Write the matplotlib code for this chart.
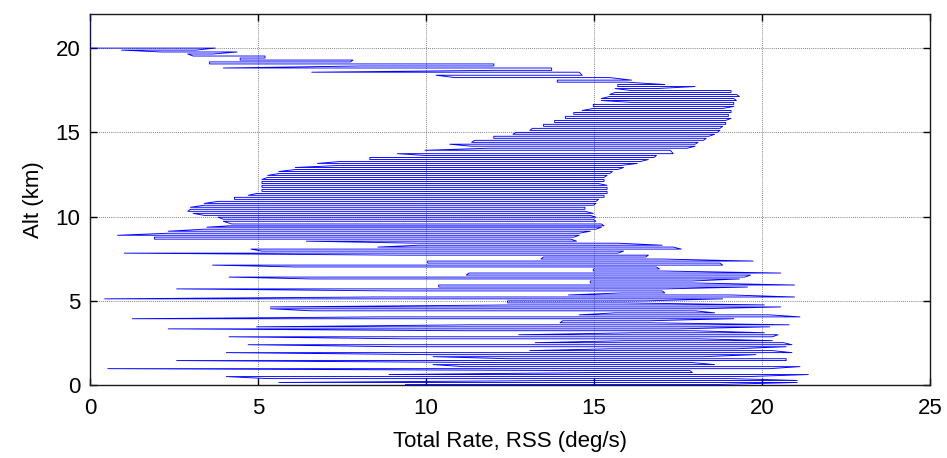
import matplotlib
matplotlib.use("Agg")
import matplotlib.pyplot as plt

plt.rcParams['font.family'] = ['Liberation Sans', 'DejaVu Sans']

# rate trace sits on 0 deg/s above the last sample
top_alt = 22.0
top_rate = 0.0

# one row per horizontal stroke, read top to bottom: altitude (km), left end, right end (deg/s)
alt_km = [
    19.99, 19.87, 19.76, 19.64, 19.52, 19.40, 19.28, 19.17, 19.05, 18.93,
    18.81, 18.67, 18.56, 18.38, 18.24, 18.09, 17.97,
    17.83, 17.71, 17.59, 17.47, 17.36, 17.24, 17.12, 17.00, 16.88, 16.77,
    16.65, 16.53, 16.41, 16.29, 16.17, 16.06, 15.94, 15.82, 15.70, 15.58,
    15.47, 15.35, 15.23, 15.11, 14.99, 14.88, 14.76, 14.64, 14.52, 14.40,
    14.29, 14.17, 14.05, 13.93,
    13.73, 13.62, 13.50, 13.38, 13.26, 13.15, 13.03, 12.91, 12.79, 12.67,
    12.55, 12.44, 12.32, 12.20, 12.08, 11.96, 11.85, 11.73, 11.61, 11.49,
    11.37, 11.26, 11.14, 11.02, 10.90, 10.78, 10.67, 10.55, 10.43, 10.31,
    10.19, 10.07, 9.96, 9.84, 9.72,
    9.56, 9.45, 9.37, 9.25, 9.13, 9.01, 8.89, 8.78, 8.66, 8.54,
    8.42, 8.30, 8.19, 8.07, 7.95, 7.83, 7.71, 7.60, 7.48, 7.36,
    7.24, 7.12, 7.01, 6.89, 6.77, 6.65, 6.53, 6.41, 6.30, 6.18,
    6.06, 5.94, 5.82, 5.71, 5.59,
    5.47, 5.35, 5.23, 5.12, 5.00, 4.88, 4.76, 4.64, 4.53, 4.41,
    4.29, 4.17, 4.05, 3.94, 3.82, 3.70, 3.58, 3.46, 3.34, 3.23,
    3.11, 2.99, 2.87, 2.75, 2.64, 2.52, 2.40, 2.28, 2.16, 2.05,
    1.93, 1.81, 1.69, 1.57, 1.46,
    1.34, 1.22, 1.10, 0.98, 0.87, 0.75, 0.63, 0.51, 0.39, 0.28,
    0.16, 0.04,
]
rate_lo = [
    0.00, 0.94, 2.13, 2.91, 3.07, 4.47, 4.47, 3.56, 3.56, 8.08,
    3.97, 12.02, 6.60, 10.30, 10.87, 13.91, 13.91,
    15.71, 15.71, 15.63, 16.12, 15.63, 15.47, 15.47, 15.22, 15.22, 16.12,
    14.98, 14.98, 14.98, 14.65, 14.40, 14.40, 14.15, 14.15, 13.83, 13.83,
    13.50, 13.50, 13.17, 13.09, 12.68, 12.59, 12.02, 12.02, 11.45, 11.36,
    10.71, 11.36, 11.86, 9.97,
    9.15, 9.97, 8.33, 8.33, 7.42, 6.77, 7.42, 6.11, 6.11, 5.62,
    5.62, 5.29, 5.29, 5.12, 5.12, 5.12, 5.12, 5.12, 5.12, 5.12,
    4.96, 4.71, 4.30, 4.30, 3.81, 3.40, 3.40, 2.99, 2.99, 2.91,
    3.07, 3.40, 3.81, 3.97, 3.97,
    4.22, 4.14, 3.48, 3.40, 2.33, 2.33, 0.82, 1.92, 1.92, 6.44,
    9.72, 9.80, 8.57, 4.79, 5.12, 1.02, 9.23, 13.50, 13.42, 10.05,
    10.05, 3.65, 6.11, 14.98, 14.98, 11.28, 11.20, 4.14, 6.60, 14.89,
    14.89, 10.38, 10.38, 2.58, 8.98,
    15.80, 14.24, 8.49, 0.44, 12.43, 12.43, 12.68, 5.37, 5.37, 6.60,
    15.63, 14.56, 8.65, 1.26, 14.07, 13.99, 11.36, 4.96, 2.33, 11.03,
    16.21, 12.76, 4.14, 9.39, 15.96, 13.25, 4.71, 9.15, 15.55, 13.09,
    4.06, 10.13, 10.21, 12.43, 2.58,
    12.10, 10.21, 11.12, 0.53, 13.99, 15.06, 8.90, 4.06, 5.29, 14.15,
    5.62, 9.39,
]
rate_hi = [
    3.73, 3.15, 4.38, 3.65, 5.21, 5.21, 7.83, 7.75, 12.02, 12.02,
    13.74, 13.74, 14.56, 14.65, 15.47, 16.12, 15.96,
    17.11, 18.01, 16.86, 19.08, 19.08, 19.24, 19.33, 19.16, 19.24, 19.16,
    19.16, 19.16, 18.83, 19.08, 19.08, 19.00, 19.00, 19.08, 18.92, 18.92,
    18.92, 18.83, 18.75, 18.75, 18.67, 18.59, 18.42, 18.34, 18.26, 18.10,
    18.01, 18.01, 17.77, 17.27,
    17.36, 16.86, 16.78, 16.62, 16.37, 16.29, 15.80, 15.88, 15.71, 15.55,
    15.47, 15.39, 15.30, 15.30, 15.30, 15.14, 15.39, 15.39, 15.39, 15.39,
    15.39, 15.30, 15.30, 15.14, 15.06, 15.06, 14.98, 14.73, 14.73, 14.73,
    14.98, 14.89, 15.06, 14.98, 15.06,
    15.22, 15.30, 15.22, 15.06, 14.89, 14.56, 14.56, 14.40, 14.32, 14.48,
    15.71, 17.03, 17.36, 17.60, 15.88, 15.71, 16.62, 16.54, 17.03, 19.74,
    18.75, 18.83, 16.86, 16.95, 17.03, 20.56, 19.66, 19.49, 19.33, 17.93,
    18.01, 20.97, 19.57, 17.11, 17.03,
    17.11, 19.08, 20.97, 18.83, 16.54, 15.88, 20.07, 20.56, 18.10, 18.01,
    18.59, 20.23, 21.13, 19.16, 16.62, 16.70, 20.81, 20.23, 17.52, 17.93,
    20.07, 20.48, 20.31, 18.10, 20.31, 20.64, 20.89, 20.72, 19.24, 20.31,
    20.89, 19.82, 18.26, 20.72, 20.72,
    17.93, 18.59, 21.13, 20.23, 17.85, 17.93, 21.38, 19.57, 19.08, 21.05,
    21.05, 18.67,
]

# zigzag path: strokes alternate left->right and right->left
x = [top_rate]
y = [top_alt]
for j in range(len(alt_km)):
    if j % 2 == 0:
        x += [rate_lo[j], rate_hi[j]]
    else:
        x += [rate_hi[j], rate_lo[j]]
    y += [alt_km[j], alt_km[j]]

fig = plt.figure(figsize=(9.47, 4.58), dpi=100)
ax = fig.add_axes([0.095, 0.159, 0.887, 0.810])
ax.plot(x, y, color='#0000ff', lw=0.65, zorder=3)

ax.set_xlim(0, 25)
ax.set_ylim(0, 22)
ax.set_xticks([0, 5, 10, 15, 20, 25])
ax.set_yticks([0, 5, 10, 15, 20])
ax.grid(True, color='0.35', linestyle=(0, (1, 1.5)), lw=0.6)
ax.tick_params(direction='in', length=5, width=1, top=True, right=True,
               labelsize=16, pad=9)
ax.tick_params(axis='y', pad=7)
for s in ax.spines.values():
    s.set_color('0.1')
    s.set_linewidth(1)

ax.set_xlabel('Total Rate, RSS (deg/s)', fontsize=16, labelpad=9)
ax.set_ylabel('Alt (km)', fontsize=16, labelpad=8)

fig.savefig('out.png', dpi=100)
